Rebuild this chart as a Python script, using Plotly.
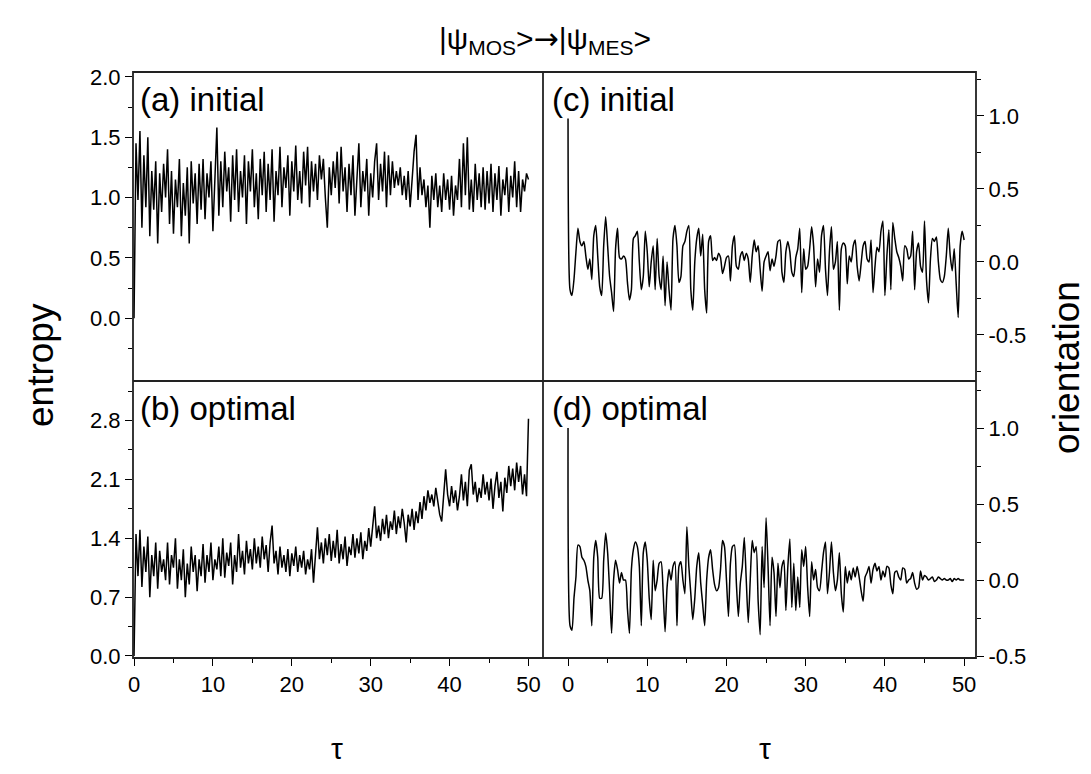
import plotly.graph_objects as go

# ---------------- data ----------------
tau = [round(0.25 * i, 2) for i in range(201)]

entropy_initial = [
    0.00, 1.45, 0.98, 1.55, 0.75, 1.35, 0.92, 1.50,
    0.68, 1.22, 0.90, 1.30, 0.62, 1.20, 0.88, 1.28,
    1.00, 1.40, 0.78, 1.22, 0.70, 1.15, 0.92, 1.32,
    0.68, 1.12, 0.85, 1.25, 0.62, 1.30, 0.95, 1.20,
    0.78, 1.28, 0.90, 1.32, 0.82, 1.20, 1.00, 1.30,
    0.72, 1.15, 1.58, 0.85, 1.30, 0.92, 1.38, 1.05,
    1.25, 0.80, 1.35, 0.98, 1.40, 0.88, 1.22, 1.00,
    1.35, 0.78, 1.30, 1.05, 1.40, 0.92, 1.20, 0.82,
    1.32, 1.02, 1.38, 0.88, 1.28, 0.98, 1.40, 0.80,
    1.22, 1.02, 1.42, 0.92, 1.25, 1.08, 1.35, 0.85,
    1.30, 1.05, 1.43, 0.98, 1.22, 0.95, 1.38, 1.10,
    1.42, 0.92, 1.30, 1.05, 1.28, 0.98, 1.35, 1.15,
    1.32, 1.00, 0.75, 1.25, 1.02, 1.30, 1.08, 1.38,
    0.95, 1.42, 1.05, 1.25, 0.88, 1.28, 1.02, 1.35,
    0.85, 1.15, 1.45, 0.92, 1.22, 1.05, 1.32, 0.85,
    1.20, 1.00, 1.30, 1.45, 0.98, 1.28, 1.05, 1.38,
    0.92, 1.35, 1.02, 1.30, 1.08, 1.22, 1.10, 1.25,
    1.02, 1.18, 0.98, 1.22, 0.92, 1.15, 1.38, 1.52,
    0.98, 1.25, 1.02, 1.15, 0.92, 1.10, 0.75, 1.18,
    0.98, 1.20, 0.92, 1.10, 0.88, 1.20, 0.98, 1.15,
    0.90, 1.18, 0.85, 1.10, 0.98, 1.32, 0.92, 1.45,
    1.02, 1.50, 0.90, 1.15, 0.88, 1.28, 0.98, 1.20,
    0.92, 1.25, 0.90, 1.22, 0.95, 1.28, 0.88, 1.20,
    0.98, 1.26, 0.85, 1.15, 1.02, 1.25, 0.88, 1.18,
    1.00, 1.30, 0.92, 1.22, 0.88, 1.15, 1.05, 1.20,
    1.15,
]

entropy_optimal = [
    0.00, 1.45, 0.95, 1.50, 0.82, 1.30, 1.00, 1.42,
    0.70, 1.20, 0.95, 1.35, 0.80, 1.25, 1.00, 1.15,
    0.90, 1.35, 0.85, 1.20, 1.05, 1.40, 0.80, 1.15,
    0.90, 1.27, 0.70, 1.10, 0.85, 1.30, 1.00, 1.20,
    0.77, 1.15, 0.95, 1.33, 0.87, 1.20, 1.00, 1.35,
    0.90, 1.15, 1.03, 1.30, 0.95, 1.40, 0.93, 1.23,
    1.07, 1.35, 0.85, 1.20, 1.00, 1.45, 1.05, 1.25,
    0.97, 1.37, 1.10, 1.27, 1.03, 1.40, 1.10, 1.30,
    1.05, 1.42, 1.15, 1.32, 1.00, 1.35, 1.55, 1.10,
    1.25, 0.97, 1.30, 1.05, 1.20, 1.00, 1.27, 0.95,
    1.22, 1.07, 1.30, 1.00, 1.20, 1.05, 1.25, 0.97,
    1.15, 1.03, 1.27, 0.87, 1.20, 1.53, 1.15, 1.35,
    1.10, 1.40, 1.20, 1.45, 1.13, 1.37, 1.17, 1.50,
    1.10, 1.33, 1.15, 1.42, 1.07, 1.30, 1.20, 1.45,
    1.17, 1.40, 1.22, 1.47, 1.15, 1.37, 1.25, 1.52,
    1.30, 1.58, 1.78, 1.40, 1.55, 1.37, 1.63, 1.45,
    1.68, 1.40, 1.60, 1.50, 1.73, 1.45, 1.66, 1.52,
    1.75, 1.58, 1.35, 1.68, 1.54, 1.75, 1.50, 1.72,
    1.58, 1.83, 1.63, 1.90, 1.73, 1.97, 1.82, 1.92,
    1.78, 2.00, 1.83, 1.68, 1.60, 1.88, 2.22, 1.92,
    1.78, 2.02, 1.82, 1.97, 1.73, 1.90, 2.16, 1.85,
    2.07, 1.78, 2.21, 2.28, 1.92, 2.07, 1.83, 2.00,
    1.88, 2.16, 1.92, 2.07, 1.85, 2.11, 1.75, 2.02,
    2.19, 1.88, 2.07, 1.72, 2.12, 1.94, 2.26, 2.02,
    2.23, 1.97, 2.30, 2.07, 2.26, 1.92, 2.16, 1.90,
    2.82,
]

orientation_initial = [
    1.00, -0.19, -0.23, -0.12, 0.07, 0.23, 0.14, 0.11,
    0.14, 0.04, -0.05, 0.02, -0.12, 0.18, 0.25, 0.04,
    -0.17, -0.23, 0.11, 0.31, 0.11, -0.10, -0.21, -0.34,
    0.09, 0.23, 0.03, 0.02, 0.04, 0.02, -0.14, -0.26,
    -0.19, 0.16, 0.18, 0.21, 0.00, -0.19, -0.10, 0.21,
    0.07, -0.17, 0.00, 0.11, -0.19, 0.16, -0.10, -0.19,
    0.04, -0.30, 0.00, -0.19, -0.33, 0.16, 0.25, 0.11,
    -0.14, -0.10, 0.11, 0.14, 0.21, 0.25, -0.19, -0.33,
    0.00, 0.16, 0.23, 0.04, 0.19, -0.19, -0.35, 0.14,
    0.18, 0.01, 0.03, 0.01, 0.06, 0.03, -0.08, -0.03,
    0.03, 0.04, -0.13, 0.11, 0.18, -0.03, -0.05, 0.04,
    0.07, 0.01, 0.06, 0.02, -0.14, 0.04, 0.15, 0.07,
    0.11, -0.05, -0.20, 0.00, 0.04, 0.07, -0.06, 0.02,
    -0.03, 0.04, 0.14, 0.15, -0.07, -0.14, 0.07, 0.14,
    0.07, -0.07, -0.10, 0.03, 0.09, 0.23, -0.21, 0.09,
    -0.05, -0.03, 0.09, 0.24, 0.11, -0.17, 0.02, -0.07,
    0.18, 0.25, -0.05, -0.23, 0.07, 0.24, -0.05, 0.00,
    0.14, -0.33, 0.09, 0.13, 0.11, -0.15, 0.04, 0.00,
    0.11, 0.15, -0.03, -0.13, -0.01, 0.11, 0.14, 0.02,
    0.00, 0.15, -0.21, -0.03, 0.10, 0.07, 0.21, 0.28,
    -0.23, 0.04, 0.22, -0.19, 0.27, 0.16, 0.07, 0.03,
    -0.03, -0.13, 0.11, 0.09, 0.02, 0.04, 0.21, -0.19,
    0.07, 0.13, -0.03, -0.07, 0.28, -0.12, -0.28, 0.02,
    0.16, 0.14, 0.17, 0.00, -0.12, -0.14, -0.10, 0.04,
    0.23, 0.04, -0.06, 0.09, -0.15, -0.38, 0.11, 0.21,
    0.15,
]

orientation_optimal = [
    1.00, -0.30, -0.33, -0.12, 0.02, 0.23, 0.22, 0.15,
    0.13, 0.09, 0.00, -0.07, -0.30, 0.15, 0.26, 0.15,
    -0.12, -0.12, 0.13, 0.31, 0.18, -0.07, -0.35, 0.00,
    0.13, 0.07, -0.02, 0.05, 0.00, 0.00, -0.19, -0.35,
    0.07, 0.20, 0.25, 0.22, 0.09, -0.30, 0.18, 0.25,
    0.13, -0.12, -0.26, 0.13, -0.07, 0.00, 0.11, 0.12,
    -0.07, -0.34, -0.05, 0.07, 0.00, 0.09, 0.12, -0.30,
    0.09, 0.12, 0.00, -0.09, 0.35, 0.09, -0.09, -0.26,
    -0.12, 0.09, 0.18, -0.02, -0.16, -0.30, 0.00, 0.15,
    0.20, 0.07, -0.03, -0.07, -0.05, 0.07, 0.26, 0.22,
    0.00, -0.24, 0.11, 0.22, 0.23, -0.02, -0.24, -0.02,
    0.09, 0.28, 0.00, -0.28, 0.00, 0.26, 0.18, 0.22,
    -0.14, -0.36, 0.22, -0.05, 0.41, 0.09, -0.30, 0.15,
    0.05, -0.24, 0.11, -0.05, 0.09, 0.13, -0.20, 0.09,
    0.27, -0.18, 0.11, -0.20, 0.02, -0.18, 0.20, 0.09,
    0.22, -0.05, -0.24, 0.12, 0.00, 0.07, -0.05, -0.07,
    0.05, 0.18, 0.25, -0.09, 0.05, 0.25, 0.05, -0.07,
    0.00, 0.18, -0.09, -0.21, 0.09, -0.02, 0.06, 0.00,
    0.08, 0.02, 0.09, 0.02, -0.07, -0.14, 0.02, 0.05,
    0.09, -0.02, 0.07, 0.11, 0.06, 0.09, 0.00, 0.06,
    0.02, 0.09, 0.08, -0.03, -0.09, 0.05, 0.06, 0.02,
    0.00, 0.08, 0.07, -0.02, 0.00, 0.01, 0.05, -0.02,
    -0.06, -0.05, 0.06, 0.00, 0.03, 0.02, 0.00, 0.01,
    0.02, -0.01, 0.00, 0.02, 0.01, 0.00, 0.01, 0.00,
    0.00, 0.01, -0.01, 0.01, 0.00, 0.01, 0.00, 0.00,
    0.00,
]

x_ticks = [0, 10, 20, 30, 40, 50]
entropy_top_ticks = [0.0, 0.5, 1.0, 1.5, 2.0]
entropy_bottom_ticks = [0.0, 0.7, 1.4, 2.1, 2.8]
orientation_ticks = [-0.5, 0.0, 0.5, 1.0]
orientation_labels = ["-0.5", "0.0", "0.5", "1.0"]

# ---------------- figure ----------------
W, H = 1091, 774
L, R, T, B = 133, 115, 72, 116
XS, YS = 543, 381  # pixel position of panel dividers
pw, ph = W - L - R, H - T - B
xd = (XS - L) / pw
yd = (H - B - YS) / ph

FONT = "Liberation Sans, Arial, sans-serif"
LW = 1.5

fig = go.Figure()
fig.add_trace(go.Scatter(x=tau, y=entropy_initial, mode="lines",
                         line=dict(color="black", width=LW), xaxis="x", yaxis="y"))
fig.add_trace(go.Scatter(x=tau, y=orientation_initial, mode="lines",
                         line=dict(color="black", width=LW, shape="spline", smoothing=0.6), xaxis="x2", yaxis="y2"))
fig.add_trace(go.Scatter(x=tau, y=entropy_optimal, mode="lines",
                         line=dict(color="black", width=LW), xaxis="x3", yaxis="y3"))
fig.add_trace(go.Scatter(x=tau, y=orientation_optimal, mode="lines",
                         line=dict(color="black", width=LW, shape="spline", smoothing=0.6), xaxis="x4", yaxis="y4"))

tickfont = dict(family=FONT, size=22, color="black")
base = dict(showgrid=False, zeroline=False, showline=False,
            tickcolor="black", ticklen=7, tickwidth=1.3)
common = dict(base, tickfont=tickfont)


def minor(vals):
    return dict(ticks="outside", ticklen=4, tickvals=vals, tickcolor="black", tickwidth=1.2)


xl_range = [-0.13, 51.84]
xr_range = [-3.16, 51.5]

fig.update_layout(
    width=W, height=H,
    margin=dict(l=L, r=R, t=T, b=B),
    paper_bgcolor="white", plot_bgcolor="white",
    showlegend=False,
    xaxis=dict(domain=[0, xd], range=xl_range, anchor="y", showticklabels=False, ticks="", **base),
    xaxis2=dict(domain=[xd, 1], range=xr_range, anchor="y2", showticklabels=False, ticks="", **base),
    xaxis3=dict(domain=[0, xd], range=xl_range, anchor="y3", tickvals=x_ticks, ticks="outside",
                minor=minor([5, 15, 25, 35, 45]), **common),
    xaxis4=dict(domain=[xd, 1], range=xr_range, anchor="y4", tickvals=x_ticks, ticks="outside",
                minor=minor([5, 15, 25, 35, 45]), **common),
    yaxis=dict(domain=[yd, 1], range=[-0.52, 2.04], anchor="x", tickvals=entropy_top_ticks,
               tickformat=".1f", ticks="outside", minor=minor([-0.25, 0.25, 0.75, 1.25, 1.75]), **common),
    yaxis3=dict(domain=[0, yd], range=[-0.024, 3.27], anchor="x3", tickvals=entropy_bottom_ticks,
                tickformat=".1f", ticks="outside", minor=minor([0.35, 1.05, 1.75, 2.45, 3.15]), **common),
    yaxis2=dict(domain=[yd, 1], range=[-0.815, 1.30], anchor="x2", side="right", tickvals=orientation_ticks,
                ticktext=orientation_labels, ticks="outside", minor=minor([-0.75, -0.25, 0.25, 0.75, 1.25]), **common),
    yaxis4=dict(domain=[0, yd], range=[-0.513, 1.31], anchor="x4", side="right", tickvals=orientation_ticks,
                ticktext=orientation_labels, ticks="outside", minor=minor([-0.25, 0.25, 0.75, 1.25]), **common),
)

# frame and dividers
frame = dict(color="#222222", width=1.8)
fig.add_shape(type="rect", xref="paper", yref="paper", x0=0, y0=0, x1=1, y1=1, line=frame, layer="above")
fig.add_shape(type="line", xref="paper", yref="paper", x0=xd, y0=0, x1=xd, y1=1, line=frame, layer="above")
fig.add_shape(type="line", xref="paper", yref="paper", x0=0, y0=yd, x1=1, y1=yd, line=frame, layer="above")


def px(X):
    return (X - L) / pw


def py(Y):
    return (H - B - Y) / ph


def ann(text, X, Y, size, xanchor="center", angle=0, bg=None):
    fig.add_annotation(text=text, x=px(X), y=py(Y), xref="paper", yref="paper", showarrow=False,
                       xanchor=xanchor, yanchor="middle", textangle=angle,
                       font=dict(family=FONT, size=size, color="black"),
                       bgcolor=bg, borderpad=0)


ann("|ψ<sub>MOS</sub>><span style=\"font-family:DejaVu Sans\">→</span>|ψ<sub>MES</sub>>", 545, 40, 30)
ann("(a) initial", 139, 99, 33, xanchor="left", bg="white")
ann("(b) optimal", 139, 408, 33, xanchor="left", bg="white")
ann("(c) initial", 551, 99, 33, xanchor="left", bg="white")
ann("(d) optimal", 551, 408, 33, xanchor="left", bg="white")
ann("entropy", 40, 365, 37, angle=-90)
ann("orientation", 1066, 368, 37, angle=-90)
ann("τ", 337, 748, 30)
ann("τ", 765, 748, 30)

fig.write_html("out.html")
